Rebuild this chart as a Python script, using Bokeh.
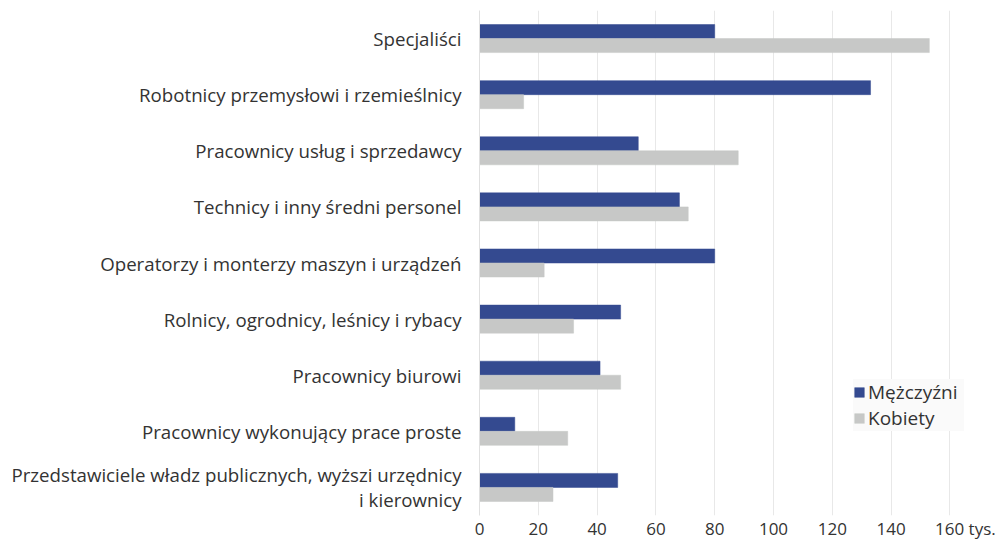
from bokeh.plotting import figure
from bokeh.models import ColumnDataSource, FactorRange, Range1d, Legend, LegendItem, FixedTicker
from bokeh.transform import dodge
from bokeh.embed import file_html
from bokeh.resources import INLINE

categories = [
    "Specjaliści",
    "Robotnicy przemysłowi i rzemieślnicy",
    "Pracownicy usług i sprzedawcy",
    "Technicy i inny średni personel",
    "Operatorzy i monterzy maszyn i urządzeń",
    "Rolnicy, ogrodnicy, leśnicy i rybacy",
    "Pracownicy biurowi",
    "Pracownicy wykonujący prace proste",
    "Przedstawiciele władz publicznych, wyższi urzędnicy\ni kierownicy",
]
men = [80, 133, 54, 68, 80, 48, 41, 12, 47]
women = [153, 15, 88, 71, 22, 32, 48, 30, 25]
x_ticks = [0, 20, 40, 60, 80, 100, 120, 140, 160]
series_names = ["Mężczyźni", "Kobiety"]
unit_label = "tys."

FONT = "Open Sans"
TEXT = "#333333"
MEN_C = "#344a90"
WOM_C = "#c7c8c7"

src = ColumnDataSource(dict(cat=categories, men=men, women=women))

p = figure(
    width=1000, height=544,
    y_range=FactorRange(factors=list(reversed(categories)), range_padding=0),
    x_range=Range1d(0, 167),
    output_backend="svg", toolbar_location=None,
    min_border_top=10, min_border_right=30, min_border_left=479, min_border_bottom=29,
)
p.outline_line_color = None

r_m = p.hbar(y=dodge("cat", 0.125, range=p.y_range), right="men", left=0, height=0.25,
             source=src, fill_color=MEN_C, line_color=MEN_C, line_width=0.5)
r_w = p.hbar(y=dodge("cat", -0.125, range=p.y_range), right="women", left=0, height=0.25,
             source=src, fill_color=WOM_C, line_color=WOM_C, line_width=0.5)

p.ygrid.grid_line_color = None
p.xgrid.grid_line_color = "#e8e8e8"
p.xgrid.grid_line_width = 1
p.xaxis.ticker = FixedTicker(ticks=x_ticks)
p.xaxis.major_label_overrides = {160: "\u00a0" * 7 + "160\u00a0" + unit_label}
p.xaxis.axis_line_color = None
p.xaxis.major_tick_line_color = None
p.xaxis.minor_tick_line_color = None
p.xaxis.major_tick_out = 0
p.xaxis.major_label_text_font = FONT
p.xaxis.major_label_text_font_size = "17px"
p.xaxis.major_label_text_color = TEXT
p.xaxis.major_label_standoff = 1

p.yaxis.axis_line_color = "#e0e0e0"
p.yaxis.major_tick_line_color = None
p.yaxis.minor_tick_line_color = None
p.yaxis.major_tick_out = 0
p.yaxis.major_label_text_font = FONT
p.yaxis.major_label_text_font_size = "18.7px"
p.yaxis.major_label_text_line_height = 1.0
p.yaxis.major_label_text_color = TEXT
p.yaxis.major_label_standoff = 18

legend = Legend(
    items=[LegendItem(label=series_names[0], renderers=[r_m]),
           LegendItem(label=series_names[1], renderers=[r_w])],
    location=(374, 84),
    label_text_font=FONT, label_text_font_size="19px", label_text_color=TEXT,
    glyph_width=12, glyph_height=12, label_standoff=3, label_height=22, label_width=96,
    spacing=0, padding=5, margin=0,
    background_fill_color="#fafafa", background_fill_alpha=1,
    border_line_color=None,
)
p.add_layout(legend, "center")

open("out.html", "w").write(file_html(p, INLINE))
